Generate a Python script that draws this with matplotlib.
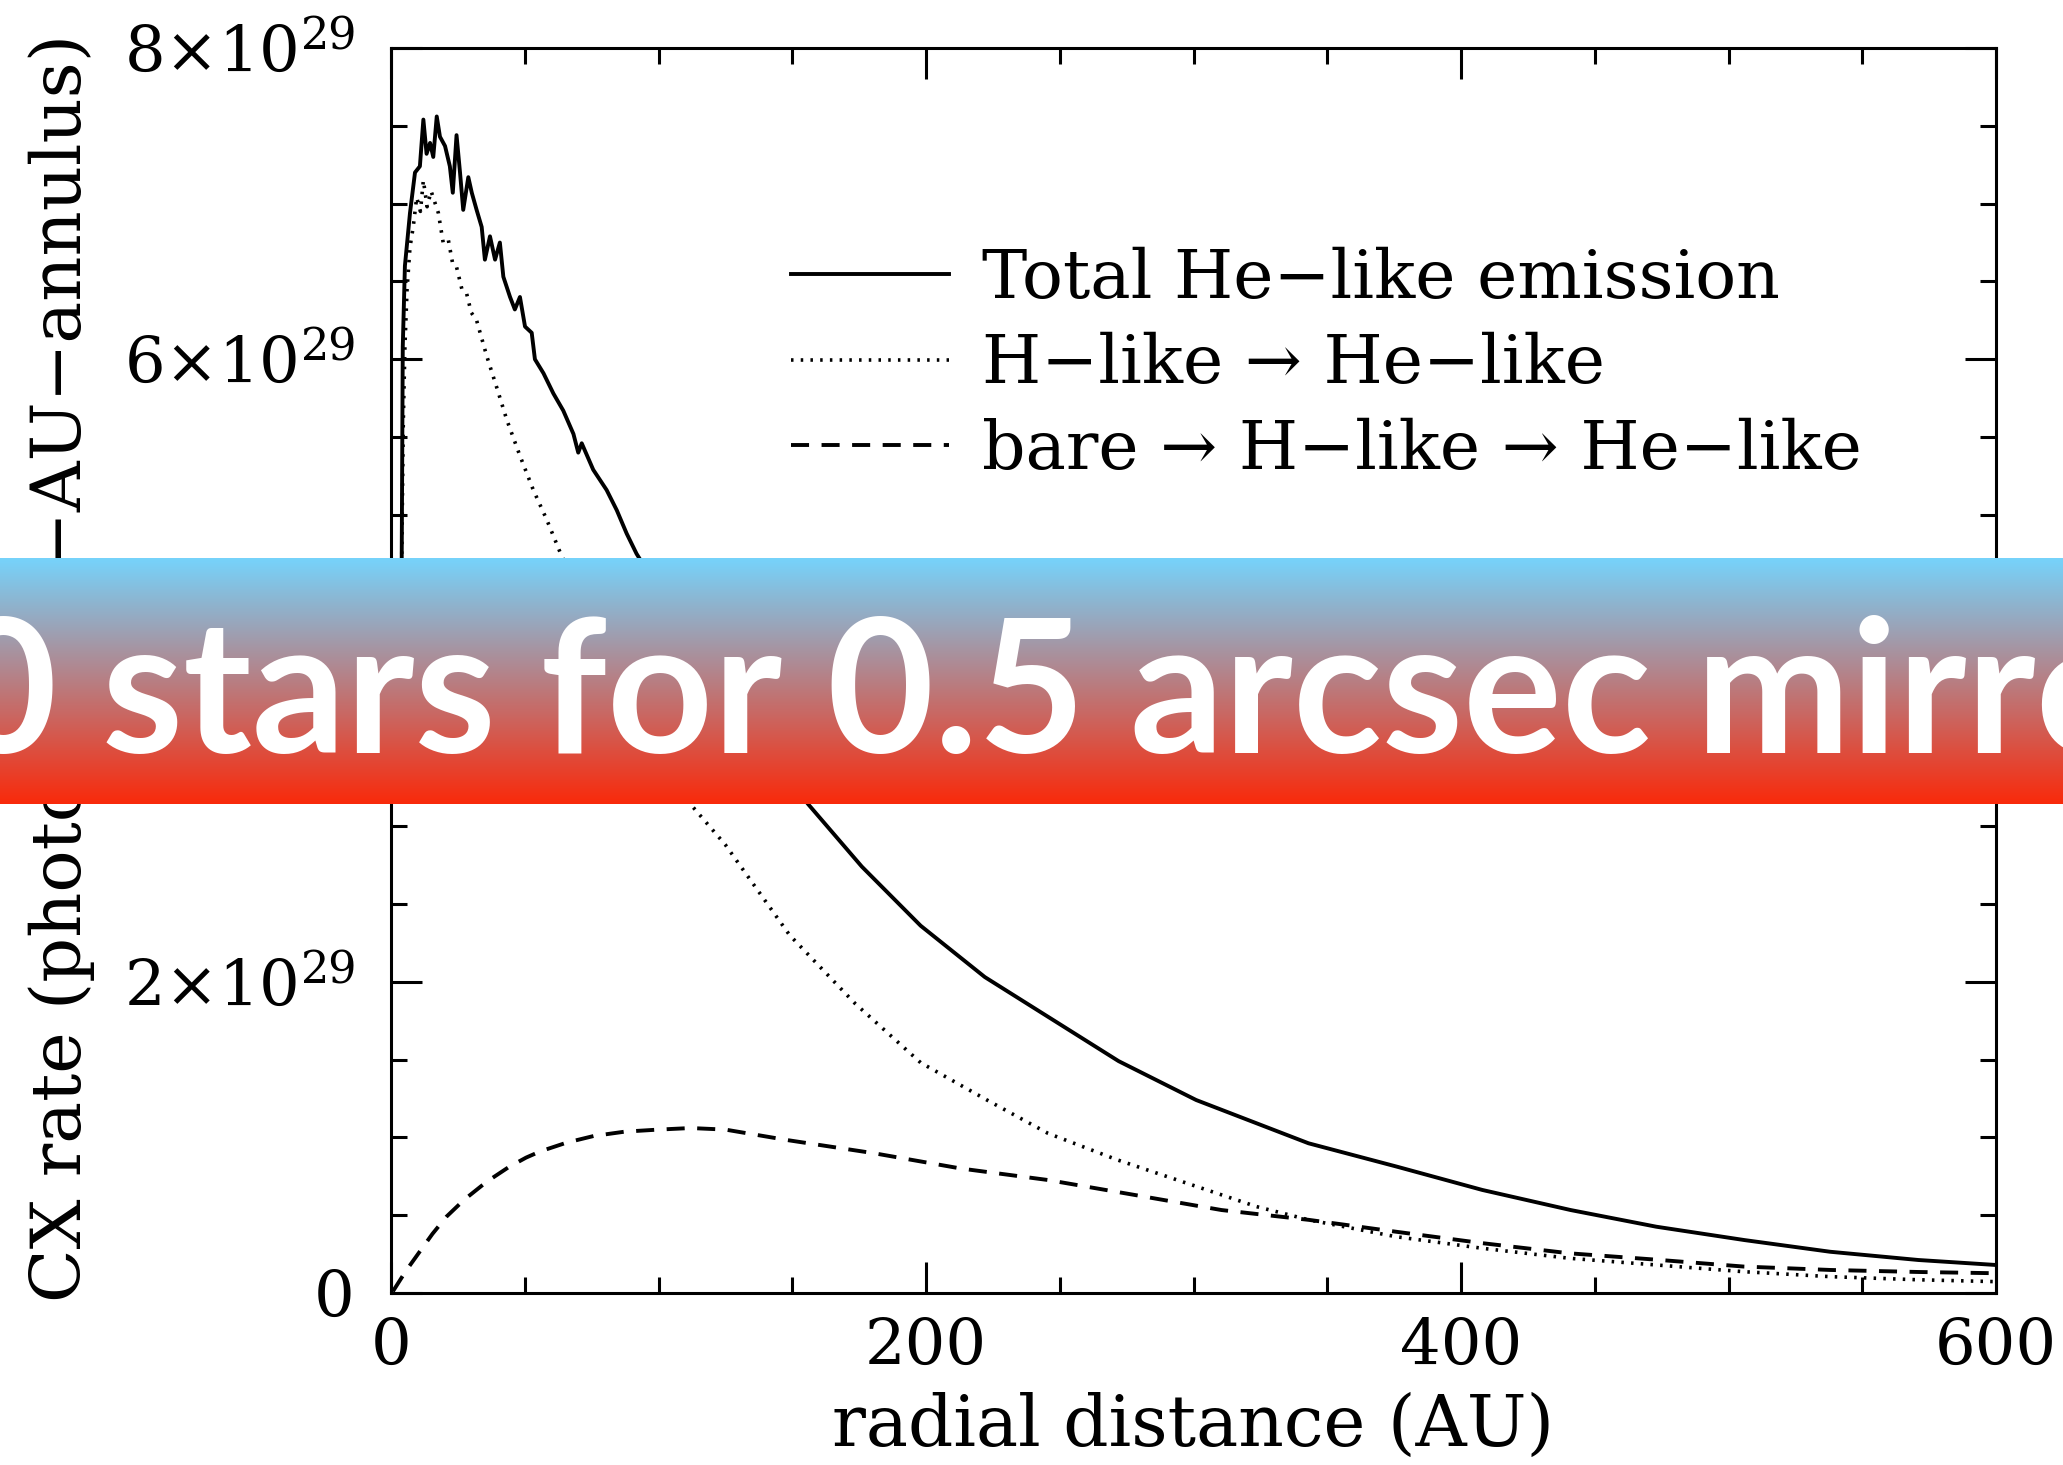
import numpy as np
import matplotlib
matplotlib.use("Agg")
import matplotlib.pyplot as plt
from matplotlib.lines import Line2D
from matplotlib.ticker import FixedLocator, MultipleLocator

# ---- data (radial distance in AU, CX rate in units of 1e29 photons/s) ----
total_r = [3.0, 3.6, 4.0, 4.4, 5.2, 7.1, 8.97, 10.8, 12.1, 13.3, 14.6, 15.8, 17.1,
           18.3, 20.2, 22.0, 23.1, 24.5, 25.8, 27.0, 28.9, 30.2, 32.0, 33.9, 35.1,
           37.0, 38.9, 40.7, 42.0, 44.5, 46.3, 48.2, 50.1, 52.6, 53.8, 57.0, 60.7,
           64.4, 68.2, 70.0, 71.3, 75.6, 80.6, 84.4, 88.1, 91.8, 110, 130, 156, 176,
           198, 222, 247, 272, 301, 343, 376, 408, 441, 473, 506, 538, 571, 600]
total_rate = [3.6, 4.3, 4.71, 6.08, 6.60, 6.94, 7.20, 7.24, 7.54, 7.32, 7.39, 7.30,
              7.56, 7.43, 7.37, 7.24, 7.07, 7.44, 7.20, 6.96, 7.17, 7.07, 6.96, 6.85,
              6.64, 6.79, 6.64, 6.75, 6.53, 6.40, 6.32, 6.40, 6.21, 6.17, 6.00, 5.91,
              5.78, 5.67, 5.52, 5.40, 5.46, 5.29, 5.16, 5.03, 4.88, 4.75, 4.25, 3.70,
              3.14, 2.74, 2.36, 2.03, 1.76, 1.49, 1.24, 0.962, 0.812, 0.662, 0.533,
              0.426, 0.340, 0.265, 0.212, 0.180]

hlike_r = [3.0, 3.7, 4.0, 4.6, 5.2, 6.0, 7.1, 8.3, 9.6, 11.0, 12.1, 13.5, 15.0, 17.7,
           19.5, 21.4, 23.0, 24.4, 26.5, 28.3, 30.0, 32.0, 35.8, 39.5, 43.3, 48.2,
           53.2, 58.2, 63.2, 75, 90, 112, 125, 149, 173.5, 198, 222.8, 245.6, 271.6,
           297.6, 323.6, 343.1, 375.6, 408.1, 440.6, 473.1, 505.6, 538.1, 571, 600]
hlike_rate = [3.5, 4.2, 4.71, 5.6, 6.08, 6.45, 6.72, 6.85, 7.04, 6.95, 7.15, 6.98,
              7.08, 6.94, 6.75, 6.77, 6.62, 6.60, 6.45, 6.42, 6.30, 6.25, 6.02, 5.82,
              5.61, 5.38, 5.16, 4.97, 4.76, 4.33, 3.78, 3.14, 2.88, 2.30, 1.86, 1.48,
              1.24, 1.026, 0.855, 0.705, 0.555, 0.470, 0.362, 0.287, 0.223, 0.180,
              0.137, 0.105, 0.085, 0.073]

bare_r = [0.7, 5.5, 10.7, 15.5, 20.7, 27.4, 35.7, 44.1, 50.5, 55.8, 65.8, 75.8, 87.5,
          100, 112, 125, 148, 180.6, 213, 245.6, 278, 310.5, 343.1, 375.6, 408.1,
          440.6, 473.1, 505.6, 538.1, 571, 600]
bare_rate = [0.01, 0.14, 0.265, 0.38, 0.49, 0.60, 0.714, 0.81, 0.87, 0.91, 0.967,
             1.009, 1.037, 1.05, 1.06, 1.05, 0.983, 0.898, 0.80, 0.726, 0.63, 0.533,
             0.47, 0.394, 0.32, 0.255, 0.214, 0.17, 0.148, 0.135, 0.127]

series_labels = ["Total He\u2212like emission",
                 "H\u2212like \u2192 He\u2212like",
                 "bare \u2192 H\u2212like \u2192 He\u2212like"]

x_major = [0, 200, 400, 600]
x_major_labels = ["0", "200", "400", "600"]
y_major = [0, 2e29, 4e29, 6e29, 8e29]
y_major_labels = ["0", r"$2{\times}10^{29}$", r"$4{\times}10^{29}$",
                  r"$6{\times}10^{29}$", r"$8{\times}10^{29}$"]

banner_text = "0 stars for 0.5 arcsec mirror"

# ---- style ----
plt.rcParams["font.family"] = ["DejaVu Serif"]
plt.rcParams["mathtext.fontset"] = "dejavuserif"
plt.rcParams["lines.scale_dashes"] = False

W, H = 2063, 1465
fig = plt.figure(figsize=(W / 100, H / 100), dpi=100)
fig.patch.set_facecolor("white")

ax = fig.add_axes([391 / W, (H - 1293) / H, (1996 - 391) / W, (1293 - 48) / H])

solid_style = dict(color="black", lw=2.8)
dotted_style = dict(color="black", lw=2.6, dashes=(1.8, 5.2))
dashed_style = dict(color="black", lw=2.8, dashes=(13, 9))

scale = 1e29
ax.plot(total_r, np.array(total_rate) * scale, **solid_style)
ax.plot(hlike_r, np.array(hlike_rate) * scale, **dotted_style)
ax.plot(bare_r, np.array(bare_rate) * scale, **dashed_style)

ax.set_xlim(0, 600)
ax.set_ylim(0, 8e29)

ax.xaxis.set_major_locator(FixedLocator(x_major))
ax.set_xticklabels(x_major_labels)
ax.xaxis.set_minor_locator(MultipleLocator(50))
ax.yaxis.set_major_locator(FixedLocator(y_major))
ax.set_yticklabels(y_major_labels)
ax.yaxis.set_minor_locator(MultipleLocator(0.5e29))

ax.tick_params(which="both", direction="in", top=True, right=True,
               width=2.2, color="black")
ax.tick_params(which="major", length=22)
ax.tick_params(which="minor", length=11.5)
ax.tick_params(axis="x", labelsize=46, pad=17)
ax.tick_params(axis="y", labelsize=46, pad=26)
for sp in ax.spines.values():
    sp.set_linewidth(2.2)

ax.set_xlabel("radial distance (AU)", fontsize=51, va="baseline")
ax.xaxis.set_label_coords(0.5, -0.1225)
ax.set_ylabel("CX rate (photons/s/1\u2212AU\u2212annulus)", fontsize=50.5,
              va="center", ha="center")
ax.yaxis.set_label_coords(-0.205, 0.502)

handles = [Line2D([], [], **solid_style),
           Line2D([], [], **dotted_style),
           Line2D([], [], **dashed_style)]
ax.legend(handles, series_labels, loc="upper left", bbox_to_anchor=(0.249, 0.8406),
          frameon=False, fontsize=49, handlelength=2.33, handletextpad=0.48,
          labelspacing=0.3, borderpad=0, borderaxespad=0)

# ---- gradient banner across the figure ----
top_rgb = np.array([118, 211, 251]) / 255.0
bot_rgb = np.array([249, 42, 11]) / 255.0
t = np.linspace(0, 1, 256)[:, None]
grad = (1 - t) * top_rgb[None, :] + t * bot_rgb[None, :]
grad = np.repeat(grad[:, None, :], 2, axis=1)

bax = fig.add_axes([0, (H - 804) / H, 1, (804 - 558) / H], zorder=10)
bax.imshow(grad, aspect="auto", extent=[0, 1, 0, 1], origin="upper",
           interpolation="bilinear")
bax.set_xlim(0, 1)
bax.set_ylim(0, 1)
bax.axis("off")
bax.text(-0.024, 0.207, banner_text, transform=bax.transAxes, color="white",
         fontsize=133, family="Lato", weight="bold", ha="left", va="baseline")

fig.savefig("out.png", dpi=100, facecolor="white")
